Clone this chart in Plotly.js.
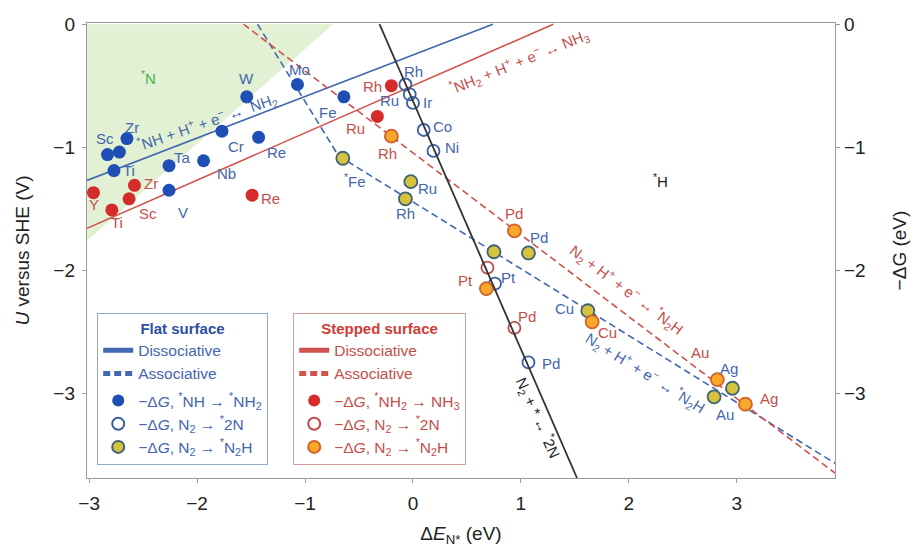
<!DOCTYPE html>
<html>
<head>
<meta charset="utf-8">
<script src="https://cdn.plot.ly/plotly-3.0.1.min.js"></script>
<style>html,body{margin:0;padding:0;background:#fff}#chart{width:919px;height:547px}</style>
</head>
<body>
<div id="chart"></div>
<script>
// ---------------- DATA ----------------
// Flat surface, -ΔG *NH -> *NH2 (filled blue)
const flatNH_names = ['Sc', '', 'Zr', 'Ti', 'Ta', 'Nb', 'V', 'Cr', 'Re', 'W', 'Mo', 'Fe'];
const flatNH_x = [-2.83, -2.72, -2.65, -2.77, -2.26, -1.94, -2.26, -1.77, -1.43, -1.54, -1.07, -0.64];
const flatNH_y = [-1.06, -1.04, -0.93, -1.19, -1.15, -1.11, -1.35, -0.87, -0.92, -0.59, -0.49, -0.59];

// Flat surface, -ΔG N2 -> *2N (open blue)
const flat2N_names = ['Rh', 'Ru', 'Ir', 'Co', 'Ni', 'Pt', 'Pd'];
const flat2N_x = [-0.07, -0.03, 0.00, 0.10, 0.19, 0.76, 1.07];
const flat2N_y = [-0.49, -0.57, -0.64, -0.86, -1.03, -2.11, -2.75];

// Flat surface, -ΔG N2 -> *N2H (gold)
const flatN2H_names = ['<sup>*</sup>Fe', 'Ru', 'Rh', 'Pt', 'Pd', 'Cu', 'Au', 'Ag'];
const flatN2H_x = [-0.65, -0.02, -0.07, 0.75, 1.07, 1.62, 2.79, 2.96];
const flatN2H_y = [-1.09, -1.28, -1.42, -1.85, -1.86, -2.33, -3.03, -2.96];

// Stepped surface, -ΔG *NH2 -> NH3 (filled red)
const stepNH2_names = ['Y', 'Ti', 'Sc', 'Zr', 'Re', 'Ru', 'Rh'];
const stepNH2_x = [-2.96, -2.79, -2.63, -2.58, -1.49, -0.33, -0.20];
const stepNH2_y = [-1.37, -1.51, -1.42, -1.31, -1.39, -0.75, -0.50];

// Stepped surface, -ΔG N2 -> *2N (open red)
const step2N_names = ['Pt', 'Pd'];
const step2N_x = [0.69, 0.94];
const step2N_y = [-1.98, -2.47];

// Stepped surface, -ΔG N2 -> *N2H (orange)
const stepN2H_names = ['Rh', 'Pd', 'Pt', 'Cu', 'Au', 'Ag'];
const stepN2H_x = [-0.20, 0.94, 0.68, 1.66, 2.82, 3.08];
const stepN2H_y = [-0.91, -1.68, -2.15, -2.42, -2.89, -3.09];

// Scaling lines
const flatDiss_x = [-3.02, 0.74];
const flatDiss_y = [-1.27, 0.0];
const stepDiss_x = [-3.02, 1.30];
const stepDiss_y = [-1.66, 0.0];
const flatAssoc_x = [-1.44, -0.69, 3.91];
const flatAssoc_y = [0.0, -1.07, -3.57];
const stepAssoc_x = [-1.57, 3.91];
const stepAssoc_y = [0.0, -3.65];
const n2Diss_x = [-0.31, 1.52];
const n2Diss_y = [0.0, -3.69];

// *N stability region (shaded)
const nRegion_x = [-3.02, -0.74, -3.02];
const nRegion_y = [0.0, 0.0, -1.76];

// Axis ticks
const xTicks = [-3, -2, -1, 0, 1, 2, 3];
const yTicks = [0, -1, -2, -3];

// ---------------- STYLE ----------------
const BLUE_LINE = '#4168b0', RED_LINE = '#d0524c', BLACK_LINE = '#333333';
const BLUE_DOT = '#1f4fb5', RED_DOT = '#d42b2b';
const BLUE_TXT = '#4466aa', RED_TXT = '#c44f4a';
const GOLD = '#d6c23c', GOLD_EDGE = '#3f6478', ORANGE = '#f7a72a', ORANGE_EDGE = '#d4602a';
const AX = '#9a9a9a';
const FONT = 'Liberation Sans, Arial, sans-serif';
const DASH = '7px,4px';

// label offsets in px [xshift, yshift]; null = no label drawn
const off_flatNH = [[-3,16], null, [5,11], [15,0], [13,8], [23,-13], [14,-22], [14,-15], [18,-15], [0,18], [2,15], [-16,-16]];
const off_flat2N = [[8,13], [-20,-6], [15,0], [19,3], [19,3], [13,6], [23,-1]];
const off_flatN2H = [[12,-22], [17,-7], [0,-15], null, [11,15], [-23,2], [11,-18], [-3,20]];
const off_stepNH2 = [[1,-12], [5,-13], [19,-15], [17,2], [18,-3], [-22,-12], [-19,-1]];
const off_step2N = [null, [13,11]];
const off_stepN2H = [[-4,-17], [0,17], [-21,8], [15,-11], [-17,27], [24,6]];

function labels(names, xs, ys, offs, color) {
  const out = [];
  names.forEach((n, i) => {
    const o = offs[i];
    if (!o || !n) return;
    out.push({x: xs[i], y: ys[i], xref: 'x', yref: 'y', text: n, showarrow: false,
      xshift: o[0], yshift: o[1], font: {size: 15, color: color, family: FONT}});
  });
  return out;
}

const traces = [
  // shaded *N region
  {x: nRegion_x, y: nRegion_y, mode: 'lines', fill: 'toself', fillcolor: '#e2f0d4',
   line: {width: 0, color: 'rgba(0,0,0,0)'}, showlegend: false, hoverinfo: 'skip'},
  // flat lines
  {x: flatDiss_x, y: flatDiss_y, mode: 'lines', name: 'Dissociative', legend: 'legend', legendgroup: 'fl',
   line: {color: BLUE_LINE, width: 1.6}},
  {x: flatAssoc_x, y: flatAssoc_y, mode: 'lines', name: 'Associative', legend: 'legend', legendgroup: 'fl',
   line: {color: BLUE_LINE, width: 1.6, dash: DASH}},
  // stepped lines
  {x: stepDiss_x, y: stepDiss_y, mode: 'lines', name: 'Dissociative', legend: 'legend2', legendgroup: 'sl',
   line: {color: RED_LINE, width: 1.6}},
  {x: stepAssoc_x, y: stepAssoc_y, mode: 'lines', name: 'Associative', legend: 'legend2', legendgroup: 'sl',
   line: {color: RED_LINE, width: 1.6, dash: DASH}},
  // N2 -> 2N line (drawn on right axis, identical range)
  {x: n2Diss_x, y: n2Diss_y, yaxis: 'y2', mode: 'lines', showlegend: false,
   line: {color: BLACK_LINE, width: 1.8}},
  // flat markers
  {x: flatNH_x, y: flatNH_y, mode: 'markers', legend: 'legend', legendgroup: 'fm',
   name: '−Δ<i>G</i>, <sup>*</sup>NH → <sup>*</sup>NH<sub>2</sub>',
   marker: {size: 13, color: BLUE_DOT, line: {width: 0}}},
  {x: flat2N_x, y: flat2N_y, mode: 'markers', legend: 'legend', legendgroup: 'fm',
   name: '−Δ<i>G</i>, N<sub>2</sub> → <sup>*</sup>2N',
   marker: {size: 12, color: 'rgba(255,255,255,0)', line: {width: 1.8, color: '#3a5fa3'}}},
  {x: flatN2H_x, y: flatN2H_y, mode: 'markers', legend: 'legend', legendgroup: 'fm',
   name: '−Δ<i>G</i>, N<sub>2</sub> → <sup>*</sup>N<sub>2</sub>H',
   marker: {size: 13, color: GOLD, line: {width: 1.8, color: GOLD_EDGE}}},
  // stepped markers
  {x: stepNH2_x, y: stepNH2_y, mode: 'markers', legend: 'legend2', legendgroup: 'sm',
   name: '−Δ<i>G</i>, <sup>*</sup>NH<sub>2</sub> → NH<sub>3</sub>',
   marker: {size: 13, color: RED_DOT, line: {width: 0}}},
  {x: step2N_x, y: step2N_y, mode: 'markers', legend: 'legend2', legendgroup: 'sm',
   name: '−Δ<i>G</i>, N<sub>2</sub> → <sup>*</sup>2N',
   marker: {size: 12, color: 'rgba(255,255,255,0)', line: {width: 1.8, color: '#b94e4e'}}},
  {x: stepN2H_x, y: stepN2H_y, mode: 'markers', legend: 'legend2', legendgroup: 'sm',
   name: '−Δ<i>G</i>, N<sub>2</sub> → <sup>*</sup>N<sub>2</sub>H',
   marker: {size: 13, color: ORANGE, line: {width: 1.8, color: ORANGE_EDGE}}}
];

const lineNotes = [
  {x: -1.90, y: -0.79, text: '<sup>*</sup>NH + H<sup>+</sup> + e<sup>−</sup> ↔ <sup>*</sup>NH<sub>2</sub>', textangle: -19, color: BLUE_TXT},
  {x: 0.98, y: -0.30, text: '<sup>*</sup>NH<sub>2</sub> + H<sup>+</sup> + e<sup>−</sup> ↔ NH<sub>3</sub>', textangle: -22, color: RED_TXT},
  {x: 1.98, y: -2.16, text: 'N<sub>2</sub> + H<sup>+</sup> + e<sup>−</sup> ↔ <sup>*</sup>N<sub>2</sub>H', textangle: 37, color: RED_TXT},
  {x: 2.15, y: -2.83, text: 'N<sub>2</sub> + H<sup>+</sup> + e<sup>−</sup> ↔ <sup>*</sup>N<sub>2</sub>H', textangle: 32, color: BLUE_TXT},
  {x: 1.16, y: -3.20, text: 'N<sub>2</sub> + * ↔ <sup>*</sup>2N', textangle: 66, color: '#222'},
  {x: -2.45, y: -0.43, text: '<sup>*</sup>N', textangle: 0, color: '#4cb04a'},
  {x: 2.29, y: -1.27, text: '<sup>*</sup>H', textangle: 0, color: '#222'}
].map(a => ({x: a.x, y: a.y, xref: 'x', yref: 'y', text: a.text, showarrow: false,
  textangle: a.textangle, font: {size: 15, color: a.color, family: FONT}}));

const annotations = [].concat(
  labels(flatNH_names, flatNH_x, flatNH_y, off_flatNH, BLUE_TXT),
  labels(flat2N_names, flat2N_x, flat2N_y, off_flat2N, BLUE_TXT),
  labels(flatN2H_names, flatN2H_x, flatN2H_y, off_flatN2H, BLUE_TXT),
  labels(stepNH2_names, stepNH2_x, stepNH2_y, off_stepNH2, RED_TXT),
  labels(step2N_names, step2N_x, step2N_y, off_step2N, RED_TXT),
  labels(stepN2H_names, stepN2H_x, stepN2H_y, off_stepN2H, RED_TXT),
  lineNotes
);

const yRange = [-3.69, 0.01];
const axisCommon = {ticks: 'outside', ticklen: 4, tickcolor: AX, showline: true, linecolor: AX,
  linewidth: 1.2, showgrid: false, zeroline: false, tickfont: {size: 19, color: '#222', family: FONT}};

const legendCommon = {yanchor: 'top', xanchor: 'left', y: 0.3626, bgcolor: '#fff', borderwidth: 1.2,
  itemsizing: 'constant', itemwidth: 30, tracegroupgap: 4, traceorder: 'grouped'};

const layout = {
  width: 919, height: 547,
  margin: {l: 87, r: 84, t: 23, b: 69},
  paper_bgcolor: '#fff', plot_bgcolor: '#fff',
  font: {family: FONT},
  xaxis: Object.assign({}, axisCommon, {range: [-3.02, 3.91], tickvals: xTicks, mirror: true,
    ticklabelstandoff: 4,
    title: {text: 'Δ<i>E</i><sub>N*</sub> (eV)', font: {size: 19, color: '#222'}, standoff: 18}}),
  yaxis: Object.assign({}, axisCommon, {range: yRange, tickvals: yTicks, ticklabelstandoff: 3,
    title: {text: '<i>U</i> versus SHE (V)', font: {size: 19, color: '#222'}, standoff: 18}}),
  yaxis2: Object.assign({}, axisCommon, {range: yRange, tickvals: yTicks, overlaying: 'y', side: 'right',
    title: {text: '−ΔG (eV)', font: {size: 19, color: '#222'}, standoff: 28}}),
  legend: Object.assign({}, legendCommon, {x: 0.0134,
    bordercolor: '#93a7cc', font: {size: 15.5, color: BLUE_TXT, family: FONT},
    title: {text: '<b>Flat surface</b>', side: 'top center', font: {size: 15, color: '#2c4f9e'}}}),
  legend2: Object.assign({}, legendCommon, {x: 0.2754,
    bordercolor: '#d59c9a', font: {size: 15.5, color: RED_TXT, family: FONT},
    title: {text: '<b>Stepped surface</b>', side: 'top center', font: {size: 15, color: '#cf3b35'}}}),
  annotations: annotations,
  showlegend: true
};

Plotly.newPlot('chart', traces, layout, {displayModeBar: false, staticPlot: true});
</script>
</body>
</html>
